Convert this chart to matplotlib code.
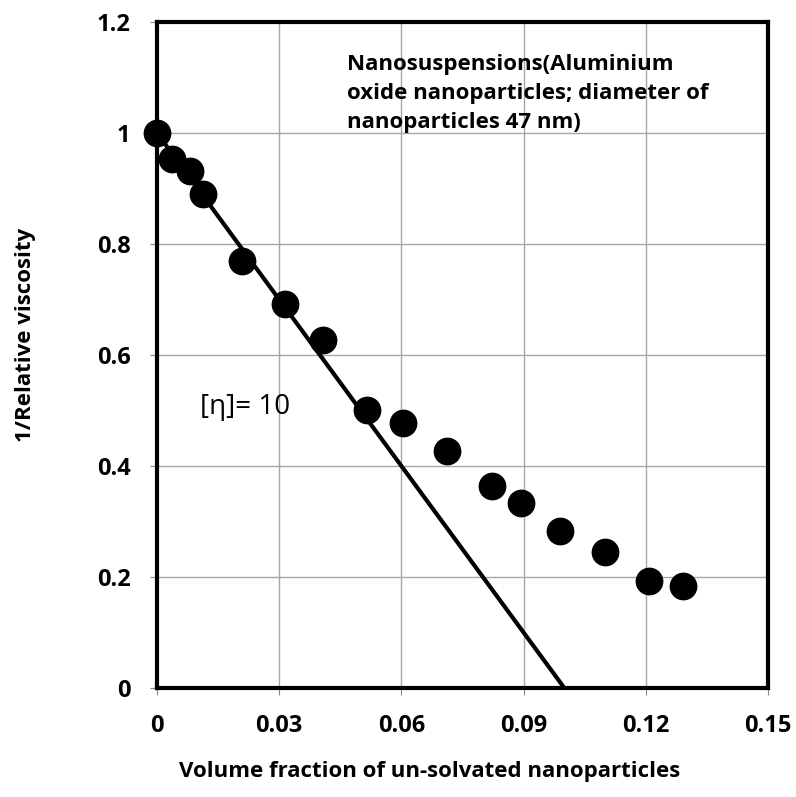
import matplotlib.pyplot as plt

# Data
phi = [0.0, 0.0037, 0.0081, 0.0113, 0.0209, 0.0315, 0.0408, 0.0516,
       0.0604, 0.0713, 0.0823, 0.0894, 0.0990, 0.1100, 0.1209, 0.1292]
inv_rel_visc = [1.0, 0.953, 0.932, 0.890, 0.769, 0.692, 0.627, 0.501,
                0.477, 0.427, 0.364, 0.333, 0.283, 0.245, 0.193, 0.184]

# fitted line 1/eta_r = 1 - [eta]*phi, [eta] = 10
fit_x = [0.0, 0.1]
fit_y = [1.0, 0.0]

x_ticks = [0, 0.03, 0.06, 0.09, 0.12, 0.15]
x_tick_labels = ['0', '0.03', '0.06', '0.09', '0.12', '0.15']
y_ticks = [0, 0.2, 0.4, 0.6, 0.8, 1.0, 1.2]
y_tick_labels = ['0', '0.2', '0.4', '0.6', '0.8', '1', '1.2']

plt.rcParams['font.family'] = ['Open Sans', 'DejaVu Sans']

fig = plt.figure(figsize=(7.96, 7.97), dpi=100)
ax = fig.add_axes([157 / 796, 1 - 688 / 797, (768 - 157) / 796, (688 - 22) / 797])

ax.plot(fit_x, fit_y, color='black', lw=3, zorder=3, solid_capstyle='butt')
ax.plot(phi, inv_rel_visc, 'o', color='black', ms=19, zorder=4, clip_on=False)

ax.set_xlim(0, 0.15)
ax.set_ylim(0, 1.2)
ax.set_xticks(x_ticks)
ax.set_xticklabels(x_tick_labels, fontsize=17, fontweight='bold')
ax.set_yticks(y_ticks)
ax.set_yticklabels(y_tick_labels, fontsize=17, fontweight='bold')
ax.tick_params(axis='both', length=5, width=0.8, color='#888888')
ax.tick_params(axis='x', pad=14)
ax.tick_params(axis='y', pad=14)

ax.grid(True, color='#a6a6a6', lw=1.0)
ax.set_axisbelow(True)
for s in ax.spines.values():
    s.set_linewidth(3)
    s.set_color('black')

ax.text(0.0466, 1.143, 'Nanosuspensions(Aluminium\noxide nanoparticles; diameter of\nnanoparticles 47 nm)',
        fontsize=16, fontweight='bold', va='top', ha='left', linespacing=1.5)
ax.text(0.0105, 0.507, '[η]= 10', fontsize=20, va='center', ha='left')

fig.text(430 / 796, 1 - 772 / 797, 'Volume fraction of un-solvated nanoparticles',
         fontsize=16, fontweight='bold', ha='center', va='center')
fig.text(26 / 796, 1 - 335 / 797, '1/Relative viscosity', fontsize=16,
         fontweight='bold', rotation=90, ha='center', va='center')

fig.savefig('out.png', dpi=100)
